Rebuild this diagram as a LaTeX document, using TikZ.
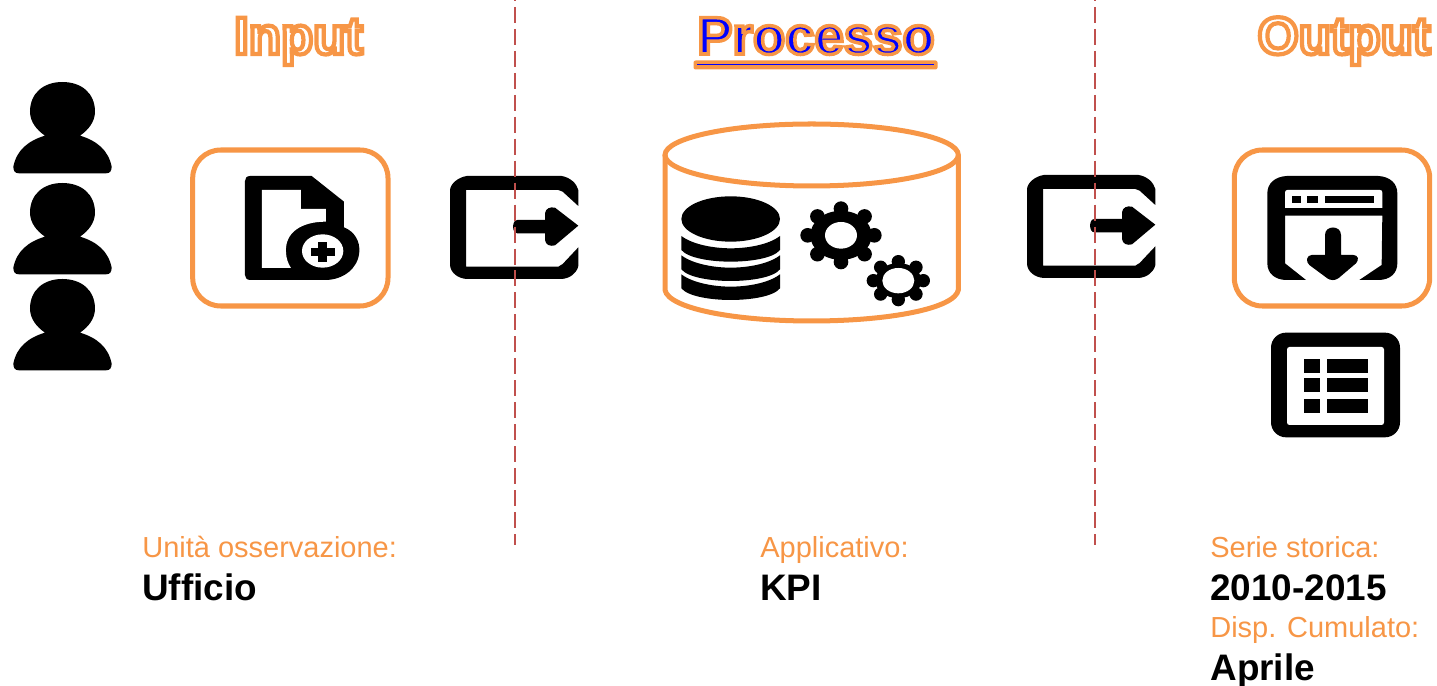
\documentclass[tikz,border=0pt]{standalone}
\usepackage{fontspec}
\setmainfont{Liberation Sans}
\definecolor{accent}{HTML}{F79646}
\definecolor{divider}{HTML}{C0504D}
\newcommand{\strokedtext}[3]{{\special{pdf:code q 2 Tr #1 w 0.969 0.588 0.275 RG #2 rg}#3\special{pdf:code Q}}}
\newcommand{\gearicon}[7]{% cx cy toothRx toothRy holeRx holeRy toothr
  \fill[black] (#1,#2) ellipse [x radius=0.92*#3,y radius=0.92*#4];
  \foreach \a in {0,45,...,315}{
    \fill[black] ({#1+#3*cos(\a)},{#2+#4*sin(\a)}) ellipse [x radius=#7,y radius=#7];
  }
  \fill[white] (#1,#2) ellipse [x radius=#5,y radius=#6];
}
\newcommand{\exiticon}{%
  \fill[black] (110,48) -- (395,48) .. controls (420,52) and (440,70) .. (445,90) -- (445,138) -- (398,95) -- (385,90) -- (108,90) -- (108,320) -- (385,320) -- (398,312) -- (445,262) -- (445,318) .. controls (440,340) and (420,355) .. (395,357) -- (110,357) .. controls (85,355) and (62,340) .. (60,315) -- (60,90) .. controls (62,70) and (85,52) .. (110,48) -- cycle;
  \fill[black] (262,180) -- (345,180) -- (345,160) .. controls (347,145) and (360,140) .. (375,143) -- (445,197) -- (375,256) .. controls (360,260) and (347,255) .. (345,240) -- (345,220) -- (262,220) .. controls (245,220) and (245,180) .. (262,180) -- cycle;
}
\newcommand{\personicon}{%
  \fill[black] (187,36) .. controls (245,36) and (285,70) .. (285,125) .. controls (285,155) and (265,180) .. (240,197) .. controls (290,212) and (325,240) .. (335,290) .. controls (335,303) and (330,310) .. (318,310) -- (57,310) .. controls (45,310) and (40,303) .. (40,290) .. controls (50,240) and (85,212) .. (135,197) .. controls (110,180) and (90,155) .. (90,125) .. controls (90,70) and (130,36) .. (187,36) -- cycle;
}
\tikzset{
  zoomed/.style={x=0.02cm/3,y=-0.02cm/3},
  framebox/.style={draw=accent,line width=2.85pt,rounded corners=0.56cm,fill=white},
  divline/.style={draw=divider,line width=0.8pt,dash pattern=on 9.1pt off 3.4pt,dash phase=8.55pt},
  title/.style={inner sep=0pt,anchor=base,font=\fontsize{30}{34}\selectfont\bfseries},
  caption/.style={inner sep=0pt,anchor=base west,text=accent,font=\fontsize{16.5}{20}\selectfont},
  value/.style={inner sep=0pt,anchor=base west,text=black,font=\fontsize{21}{25}\selectfont\bfseries},
}
\begin{document}
\begin{tikzpicture}[x=0.02cm,y=-0.02cm]
\useasboundingbox (0,0) rectangle (1437,686);
% persons
\begin{scope}[shift={(0,70)},zoomed]
  \personicon
  \begin{scope}[shift={(0,303)}]\personicon\end{scope}
  \begin{scope}[shift={(0,591)}]\personicon\end{scope}
\end{scope}
% input box
\draw[framebox] (192.7,150) rectangle (388,306);
\begin{scope}[shift={(0,70)},zoomed]
  \fill[black] (750,318) -- (935,318) -- (1032,395) -- (1032,472) .. controls (1065,485) and (1080,515) .. (1078,545) .. controls (1075,595) and (1030,630) .. (975,630) -- (750,630) .. controls (740,630) and (735,622) .. (735,615) -- (735,333) .. controls (735,325) and (740,318) .. (750,318) -- cycle;
  \fill[white] (786,360) -- (903,360) -- (903,417) -- (978,417) -- (978,455) .. controls (900,455) and (855,490) .. (858,545) .. controls (858,565) and (865,582) .. (873,594) -- (786,594) -- cycle;
  \fill[white] (968,543) ellipse [x radius=62,y radius=50];
  \fill[black] (955,517) rectangle (982,577);
  \fill[black] (933,533) rectangle (1005,558);
\end{scope}
% exit icons
\begin{scope}[shift={(430,160)},zoomed]\exiticon\end{scope}
\begin{scope}[shift={(1007,159)},zoomed]\exiticon\end{scope}
% cylinder
\begin{scope}[shift={(640,0)},zoomed]
  \draw[accent,line width=2.85pt] (75,465) -- (75,870) .. controls (85,925) and (280,963) .. (515,963) .. controls (750,963) and (945,925) .. (955,870) -- (955,465);
  \draw[accent,line width=2.85pt] (515,465) ellipse [x radius=440,y radius=93];
  \fill[black] (272,657) ellipse [x radius=148,y radius=68];
  \foreach \d in {0,58,115}{
    \fill[black] (124,{708+\d}) .. controls (160,{735+\d}) and (225,{745+\d}) .. (272,{745+\d}) .. controls (320,{745+\d}) and (385,{735+\d}) .. (420,{708+\d}) -- (420,{750+\d}) .. controls (400,{775+\d}) and (330,{785+\d}) .. (272,{785+\d}) .. controls (215,{785+\d}) and (145,{775+\d}) .. (124,{750+\d}) -- cycle;
  }
  \gearicon{603}{706}{100}{80}{48}{40}{22}
  \gearicon{775}{842}{75}{57}{48}{38}{20}
\end{scope}
% output box
\draw[framebox] (1234.3,150) rectangle (1429.7,306);
\begin{scope}[shift={(1200,0)},zoomed]
  \fill[black] (260,528) -- (535,528) .. controls (570,530) and (592,550) .. (592,580) -- (592,790) .. controls (592,820) and (570,840) .. (535,840) -- (478,840) -- (545,795) -- (547,647) -- (255,647) -- (255,790) -- (318,840) -- (260,840) .. controls (225,840) and (202,820) .. (202,790) -- (202,580) .. controls (202,550) and (225,530) .. (260,528) -- cycle;
  \fill[white] (262,570) -- (540,570) .. controls (545,570) and (547,573) .. (547,578) -- (547,624) -- (255,624) -- (255,578) .. controls (255,573) and (258,570) .. (262,570) -- cycle;
  \fill[black] (276,588) rectangle (303,609);
  \fill[black] (321,588) rectangle (354,609);
  \fill[black] (375,588) rectangle (522,609);
  \fill[black] (375,705) .. controls (375,675) and (423,675) .. (423,705) -- (423,765) -- (460,765) .. controls (475,765) and (478,780) .. (468,790) -- (415,835) .. controls (405,842) and (392,842) .. (382,835) -- (328,795) .. controls (316,785) and (320,765) .. (335,765) -- (375,765) -- cycle;
  \fill[black,rounded corners=0.3cm] (213,998) rectangle (600,1312);
  \fill[white,rounded corners=0.05cm] (261,1041) rectangle (552,1275);
  \foreach \yy in {1077,1134,1197}{
    \fill[black] (312,\yy) rectangle (360,\yy+42);
    \fill[black] (381,\yy) rectangle (504,\yy+42);
  }
\end{scope}
% dividers
\coordinate (d1a) at (515,0);
\coordinate (d1b) at (515,545);
\coordinate (d2a) at (1095,0);
\coordinate (d2b) at (1095,545);
\draw[divline] (d1a) -- (d1b);
\draw[divline] (d2a) -- (d2b);
% titles
\node[title] (tinput) at (298.5,54) {\strokedtext{2.4}{1 1 1}{Input}};
\fill[accent,rounded corners=0.04cm] (693.5,60.5) rectangle (937.5,69.5);
\draw[blue,line width=0.6pt] (697,64.5) -- (934,64.5);
\node[title] (tproc) at (816,54) {\strokedtext{2.0}{0 0 1}{Processo}};
\node[title] (toutput) at (1344,54) {\strokedtext{2.4}{1 1 1}{Output}};
% captions
\node[caption] (c1) at (142,557) {Unità osservazione:};
\node[value] (v1) at (142,600) {Ufficio};
\node[caption] (c2) at (760,557) {Applicativo:};
\node[value] (v2) at (760,600) {KPI};
\node[caption] (c3) at (1210,557) {Serie storica:};
\node[value] (v3) at (1210,600) {2010-2015};
\node[caption] (c4) at (1210,637) {Disp. Cumulato:};
\node[value] (v4) at (1210,680) {Aprile};
\end{tikzpicture}
\end{document}
